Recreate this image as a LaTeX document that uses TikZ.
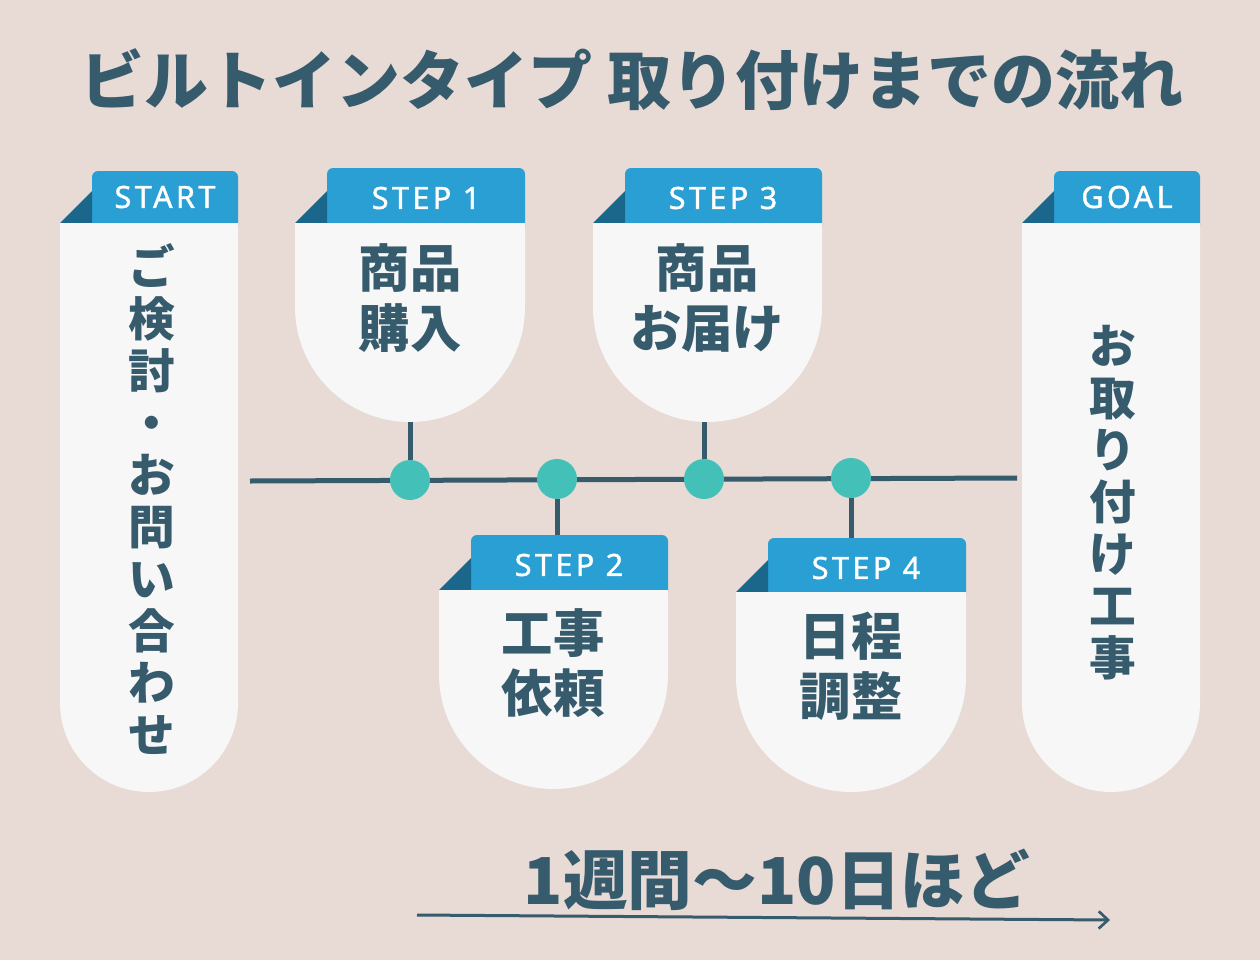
\documentclass[tikz,border=0pt]{standalone}
\usepackage{fontspec}
\usepackage{tikz}
\usetikzlibrary{arrows.meta}

\newfontfamily\jpfont{Noto Sans CJK JP}
\newfontfamily\tabfont[LetterSpace=11,FakeBold=1.2]{Noto Sans}

\definecolor{bgrose}{HTML}{E8DAD5}
\definecolor{cardwhite}{HTML}{F7F7F7}
\definecolor{tabblue}{HTML}{2A9FD3}
\definecolor{folddark}{HTML}{1B678C}
\definecolor{inkslate}{HTML}{365B6D}
\definecolor{dotteal}{HTML}{43C1B8}

\tikzset{
  cardbody/.style={fill=cardwhite},
  cardtab/.style={fill=tabblue, rounded corners=4.5pt},
  cardfold/.style={fill=folddark},
  tablabel/.style={text=white, font=\tabfont\fontsize{23}{26}\selectfont, inner sep=0pt},
  cardtext/.style={text=inkslate, align=center, inner sep=0pt, font=\jpfont\bfseries\fontsize{38.5}{45}\selectfont},
  vtext/.style={text=inkslate, align=center, inner sep=0pt, font=\jpfont\bfseries\fontsize{35}{39}\selectfont},
  dot/.style={circle, fill=dotteal, minimum size=30pt, inner sep=0pt},
  link/.style={draw=inkslate, line width=3.75pt},
}

\begin{document}
\begin{tikzpicture}[x=0.75pt,y=0.75pt,yscale=-1,xscale=1]
	%set diagram to 1260 x 960
	\useasboundingbox (0,0) rectangle (1260,960);
	\fill[bgrose] (0,0) rectangle (1260,960);

	% Title
	\node[text=inkslate, inner sep=0pt, font=\jpfont\bfseries\fontsize{48}{52}\selectfont] (title) at (632,80) {ビルトインタイプ 取り付けまでの流れ};

	%Shape: START card
	\fill[cardtab] (92,171) rectangle (238,232);
	\fill[cardfold] (60,223) -- (92,191) -- (92,223) -- cycle;
	\fill[cardbody] (60,223) -- (60,703) arc[start angle=180,end angle=0,radius=89] -- (238,223) -- cycle;
	%Shape: STEP 1 card
	\fill[cardtab] (327,168) rectangle (525,232);
	\fill[cardfold] (295,223) -- (327,191) -- (327,223) -- cycle;
	\fill[cardbody] (295,223) -- (295,307) arc[start angle=180,end angle=0,radius=115] -- (525,223) -- cycle;
	%Shape: STEP 3 card
	\fill[cardtab] (625,168) rectangle (822,232);
	\fill[cardfold] (593,223) -- (625,191) -- (625,223) -- cycle;
	\fill[cardbody] (593,223) -- (593,307.5) arc[start angle=180,end angle=0,radius=114.5] -- (822,223) -- cycle;
	%Shape: STEP 2 card
	\fill[cardtab] (471,535) rectangle (668,599);
	\fill[cardfold] (439,590) -- (471,558) -- (471,590) -- cycle;
	\fill[cardbody] (439,590) -- (439,674.5) arc[start angle=180,end angle=0,radius=114.5] -- (668,590) -- cycle;
	%Shape: STEP 4 card
	\fill[cardtab] (768,538) rectangle (966,601);
	\fill[cardfold] (736,592) -- (768,560) -- (768,592) -- cycle;
	\fill[cardbody] (736,592) -- (736,677) arc[start angle=180,end angle=0,radius=115] -- (966,592) -- cycle;
	%Shape: GOAL card
	\fill[cardtab] (1054,171) rectangle (1200,232);
	\fill[cardfold] (1022,223) -- (1054,191) -- (1054,223) -- cycle;
	\fill[cardbody] (1022,223) -- (1022,703) arc[start angle=180,end angle=0,radius=89] -- (1200,223) -- cycle;

	% Tab labels
	\node[tablabel] (tstart) at (165,197) {START};
	\node[tablabel] (tstep1) at (426,198) {STEP 1};
	\node[tablabel] (tstep3) at (723,198) {STEP 3};
	\node[tablabel] (tstep2) at (569,565) {STEP 2};
	\node[tablabel] (tstep4) at (866,568) {STEP 4};
	\node[tablabel] (tgoal) at (1127,197) {GOAL};

	% Card texts
	\node[vtext] (start) at (152,499) {ご\\検\\討\\・\\お\\問\\い\\合\\わ\\せ};
	\node[cardtext] (step1) at (410,298) {商品\\購入};
	\node[cardtext] (step3) at (707,298) {商品\\お届け};
	\node[cardtext] (step2) at (553,663) {工事\\依頼};
	\node[cardtext] (step4) at (851,666) {日程\\調整};
	\node[vtext] (goal) at (1113,503) {お\\取\\り\\付\\け\\工\\事};

	% Timeline
	\coordinate (tl) at (250,481);
	\coordinate (tr) at (1017,478);
	\draw[link] (tl) -- (tr);
	\coordinate (s1b) at (410,422);
	\coordinate (s3b) at (704,422);
	\coordinate (s2t) at (557,535);
	\coordinate (s4t) at (851,538);
	\node[dot] (d1) at (410,480) {};
	\node[dot] (d2) at (557,479) {};
	\node[dot] (d3) at (704,479) {};
	\node[dot] (d4) at (851,478) {};
	\draw[link] (d1) -- (s1b);
	\draw[link] (d2) -- (s2t);
	\draw[link] (d3) -- (s3b);
	\draw[link] (d4) -- (s4t);

	% Duration
	\node[text=inkslate, inner sep=0pt, font=\jpfont\bfseries\fontsize{48.5}{52}\selectfont] (span) at (777,880) {1週間〜10日ほど};
	\coordinate (as) at (417,915);
	\coordinate (ae) at (1110,920);
	\draw[draw=inkslate, line width=2.25pt, -{Straight Barb[length=7pt, width=13pt, line width=2pt]}] (as) -- (ae);

\end{tikzpicture}
\end{document}
